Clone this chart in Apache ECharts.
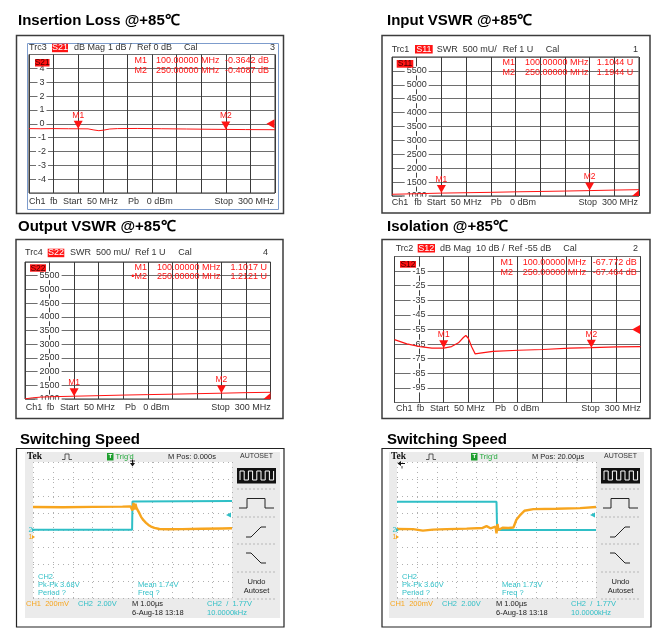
<!DOCTYPE html>
<html>
<head>
<meta charset="utf-8">
<script src="https://cdn.jsdelivr.net/npm/echarts@6/dist/echarts.min.js"></script>
<style>
html,body{margin:0;padding:0;background:#fff;}
#c{width:671px;height:644px;}
</style>
</head>
<body>
<div id="c"></div>
<script>
// ---------------- DATA ----------------
const freqStart = 50, freqStop = 300, freqStep = 25;
const markerFreq = [100, 250];

// Insertion loss S21 (dB)
const ilFreq = [50, 62, 75, 90, 100, 110, 116, 121, 126, 132, 140, 160, 185, 210, 235, 250, 270, 300];
const ilDb   = [-0.35, -0.36, -0.35, -0.36, -0.364, -0.37, -0.45, -0.5, -0.46, -0.38, -0.35, -0.34, -0.36, -0.38, -0.40, -0.409, -0.42, -0.43];
const ilMarkDb = [-0.3642, -0.4087];
const ilMarkText = ['-0.3642 dB', '-0.4087 dB'];
const ilTicks = {min: -5, max: 5, step: 1};

// Input VSWR S11 (mU)
const inFreq = [50, 75, 100, 125, 150, 175, 200, 225, 250, 275, 300];
const inMilliU = [1062, 1082, 1104, 1118, 1132, 1150, 1163, 1178, 1194, 1213, 1228];
const inMark = [1104.4, 1194.4];
const inMarkText = ['1.1044 U', '1.1944 U'];

// Output VSWR S22 (mU)
const outFreq = [50, 58, 66, 75, 100, 125, 150, 175, 200, 225, 250, 275, 300];
const outMilliU = [1005, 1045, 1068, 1082, 1102, 1122, 1143, 1160, 1176, 1194, 1212, 1232, 1245];
const outMark = [1101.7, 1212.1];
const outMarkText = ['1.1017 U', '1.2121 U'];
const swrTicks = {min: 1000, max: 6000, step: 500};

// Isolation S12 (dB)
const isoFreq = [50, 62.5, 76, 88, 100, 108, 115, 120, 122.5, 125, 128.5, 132, 137, 150, 176, 201, 228, 250, 276, 300];
const isoDb   = [-61.9, -64.8, -66.7, -67.8, -67.8, -66.7, -64.1, -60.5, -59.1, -61, -67, -71.7, -71.2, -70, -69.2, -68.7, -67.8, -67.46, -66.9, -66.7];
const isoMark = [-67.772, -67.464];
const isoMarkText = ['-67.772 dB', '-67.464 dB'];
const isoTicks = {min: -105, max: -5, step: 10};

// Scope 1 (time in us, CH1 mV, CH2 V)
const s1T   = [-5, -3.5, -2, -0.5, -0.1, 0, 0.05, 0.1, 0.15, 0.2, 0.27, 0.35, 0.43, 0.55, 0.68, 0.8, 0.93, 1.1, 1.35, 1.8, 2.5, 3.5, 4.5, 5];
const s1Ch1 = [350, 348, 352, 355, 358, 310, 400, 320, 390, 340, 318, 275, 235, 195, 165, 140, 121, 105, 92, 88, 90, 94, 98, 100];
const s1T2  = [-5, -0.02, 0, 0.05, 5];
const s1Ch2 = [0.02, 0.02, 3.35, 3.42, 3.42];
// Scope 2
const s2T   = [15, 15.8, 16.3, 16.8, 17.5, 18.5, 19.3, 19.5, 19.7, 19.95, 20.0, 20.05, 20.1, 20.3, 20.6, 20.85, 21.0, 21.2, 21.4, 21.85, 23.0, 24.2, 25];
const s2Ch1 = [92, 90, 72, 85, 90, 96, 104, 125, 100, 120, 40, 150, 80, 106, 104, 110, 200, 259, 306, 326, 330, 337, 350];
const s2T2  = [15, 20.0, 20.03, 25];
const s2Ch2 = [3.32, 3.32, 0.0, 0.0];
const trigLevel = 1.77;

// ---------------- BUILD ----------------
const FONT = "'Liberation Sans', Arial, Helvetica, sans-serif";
const RED = '#ff1414';
const CYAN = '#2fbfc6';
const ORANGE = '#f7a51e';
const grids = [], xAxes = [], yAxes = [], series = [], graphics = [];

function txt(x, y, s, o) {
  o = o || {};
  const a = o.a || 'left';
  graphics.push({type: 'text', x: x, y: y, z: o.z != null ? o.z : 100, silent: true,
    style: {text: s, fill: o.c || '#333', font: (o.w || 'normal') + ' ' + (o.fs || 9) + 'px ' + (o.ff || FONT),
      textAlign: a, textVerticalAlign: 'middle'}});
}
function rect(x, y, w, h, style, z) {
  graphics.push({type: 'rect', z: z != null ? z : 95, silent: true, shape: {x: x, y: y, width: w, height: h}, style: style});
}
function poly(points, style, z) {
  graphics.push({type: 'polyline', z: z != null ? z : 100, silent: true, shape: {points: points}, style: Object.assign({fill: null}, style)});
}
function polygon(points, fill, z) {
  graphics.push({type: 'polygon', z: z != null ? z : 100, silent: true, shape: {points: points}, style: {fill: fill}});
}

const downTri = 'path://M0,0L10,0L5,9Z';
const leftTri = 'path://M10,0L10,10L0,5Z';
const cornerTri = 'path://M10,0L10,10L0,10Z';

function addVna(p) {
  const gi = grids.length, yi = yAxes.length;
  const [l, t, w, h] = p.rect;
  grids.push({left: l, top: t, width: w, height: h, show: true, borderColor: '#333', borderWidth: 1, backgroundColor: '#fff'});
  xAxes.push({gridIndex: gi, type: 'value', min: freqStart, max: freqStop, interval: freqStep,
    axisLine: {show: false, onZero: false}, axisTick: {show: false}, axisLabel: {show: false},
    splitLine: {show: true, lineStyle: {color: '#3a3a3a', width: 1}}});
  yAxes.push({gridIndex: gi, type: 'value', position: 'left', min: p.ticks.min, max: p.ticks.max, interval: p.ticks.step,
    offset: -p.labelDx,
    axisLine: {show: !!p.dashed, onZero: false, lineStyle: {color: '#444', width: 1, type: [2, 2]}},
    axisTick: {show: false},
    axisLabel: {show: true, interval: 0, margin: 0, align: 'center', fontSize: 9, fontFamily: FONT, color: '#333',
      backgroundColor: '#fff', padding: [0, 2], showMinLabel: p.showMin, showMaxLabel: false,
      formatter: v => String(v)},
    splitLine: {show: true, lineStyle: {color: '#6e6e6e', width: 1}}});
  const mlabel = {show: true, position: 'top', distance: 1, formatter: '{b}', color: RED, fontSize: 8.5, fontFamily: FONT};
  series.push({type: 'line', xAxisIndex: gi, yAxisIndex: yi, data: p.freq.map((f, i) => [f, p.vals[i]]),
    showSymbol: false, symbol: 'none', lineStyle: {color: RED, width: p.lw || 1}, itemStyle: {color: RED},
    silent: true, z: 3,
    markPoint: {silent: true, animation: false, data: [
      {name: 'M1', coord: [markerFreq[0], p.marks[0]], symbol: downTri, symbolSize: [9, 8], symbolOffset: [0, '-50%'], itemStyle: {color: RED}, label: mlabel},
      {name: 'M2', coord: [markerFreq[1], p.marks[1]], symbol: downTri, symbolSize: [9, 8], symbolOffset: [0, '-50%'], itemStyle: {color: RED}, label: mlabel},
      {name: 'ref', coord: [freqStop, p.refVal], symbol: p.refSym, symbolSize: p.refSize, symbolOffset: p.refOff, itemStyle: {color: RED}, label: {show: false}}
    ]}});
  // header
  const hy = p.hy;
  const H = p.hdr;
  txt(H[0], hy, H[1]);
  rect(H[2], hy - 4.3, H[3], 8.5, {fill: RED});
  txt(H[2] + H[3] / 2, hy, p.sname, {c: '#fff', a: 'center'});
  for (let i = 4; i < H.length - 2; i += 2) txt(H[i], hy, H[i + 1]);
  txt(H[H.length - 2], hy, H[H.length - 1], {a: 'right'});
  // trace label box in plot
  rect(p.box[0], p.box[1], p.box[2], p.box[3], {fill: RED});
  txt(p.box[0] + p.box[2] / 2, p.box[1] + p.box[3] / 2 + 0.3, p.sname, {c: '#4a0000', a: 'center', fs: 8.5});
  // readouts
  const names = p.mnames;
  for (let k = 0; k < 2; k++) {
    const y = p.ry[k];
    txt(p.rx[0], y, names[k], {c: RED, a: 'right'});
    txt(p.rx[1], y, markerFreq[k].toFixed(5) + ' MHz', {c: RED});
    txt(p.rx[2], y, p.mtext[k], {c: RED, a: 'right'});
  }
  // footer
  const F = p.ftr, fy = p.fy;
  txt(F[0], fy, 'Ch1'); txt(F[1], fy, 'fb'); txt(F[2], fy, 'Start  50 MHz');
  txt(F[3], fy, 'Pb'); txt(F[4], fy, '0 dBm'); txt(F[5], fy, 'Stop  300 MHz', {a: 'right'});
  if (p.cover) rect(p.cover[0], p.cover[1], p.cover[2], p.cover[3], {fill: '#fff'}, 99);
}

// Titles
function title(x, y, s) { txt(x, y, s, {w: 'bold', fs: 15, c: '#000'}); }
title(18, 20.5, 'Insertion Loss @+85℃');
title(387, 20.5, 'Input VSWR @+85℃');
title(18, 227, 'Output VSWR @+85℃');
title(387, 227, 'Isolation @+85℃');
title(20, 440, 'Switching Speed');
title(387, 440, 'Switching Speed');

// Frames
rect(16.5, 35.5, 267, 178, {fill: null, stroke: '#3c3c3c', lineWidth: 1.5}, 50);
rect(27.5, 43.5, 251, 166, {fill: null, stroke: '#7d9ccc', lineWidth: 1}, 50);
rect(382, 35.5, 268, 177.5, {fill: null, stroke: '#3c3c3c', lineWidth: 1.5}, 50);
rect(16, 239.5, 267, 179, {fill: null, stroke: '#3c3c3c', lineWidth: 1.5}, 50);
rect(382, 239.5, 268, 179, {fill: null, stroke: '#3c3c3c', lineWidth: 1.5}, 50);

addVna({rect: [29, 54.5, 246, 138.5], ticks: ilTicks, labelDx: 13, dashed: false, showMin: false,
  freq: ilFreq, vals: ilDb, marks: ilMarkDb, mtext: ilMarkText, mnames: ['M1', 'M2'],
  refVal: 0, refSym: leftTri, refSize: [8, 9], refOff: [-4.5, 0], sname: 'S21',
  hy: 48, hdr: [29, 'Trc3', 52, 16, 74, 'dB Mag', 108, '1 dB /', 137, 'Ref 0 dB', 184, 'Cal', 275, '3'],
  box: [35, 59, 14.5, 7.5], rx: [147, 156, 269], ry: [61, 71],
  fy: 202, ftr: [29, 50, 63, 128, 146.7, 274]});

addVna({rect: [392, 57, 247, 139], ticks: swrTicks, labelDx: 24.7, dashed: true, showMin: true,
  freq: inFreq, vals: inMilliU, marks: inMark, mtext: inMarkText, mnames: ['M1', 'M2'],
  refVal: 1000, refSym: cornerTri, refSize: [7, 6], refOff: [-3.5, -3], sname: 'S11',
  hy: 49.3, hdr: [391.7, 'Trc1', 415, 17.7, 436.7, 'SWR', 462.7, '500 mU/', 502.7, 'Ref 1 U', 545.7, 'Cal', 638, '1'],
  box: [396.7, 60, 16.6, 7.7], rx: [515, 525, 633.3], ry: [62.7, 72.7],
  fy: 202.7, ftr: [391.7, 414.3, 426.7, 490.7, 510, 638],
  cover: [402, 196.7, 30, 6]});

addVna({rect: [25, 262, 245.5, 137], ticks: swrTicks, labelDx: 24.6, dashed: true, showMin: true,
  freq: outFreq, vals: outMilliU, marks: outMark, mtext: outMarkText, mnames: ['M1', '•M2'],
  refVal: 1000, refSym: cornerTri, refSize: [7, 6], refOff: [-3.5, -3], sname: 'S22',
  hy: 253, hdr: [25, 'Trc4', 47.7, 16.6, 70, 'SWR', 96, '500 mU/', 135, 'Ref 1 U', 178.3, 'Cal', 268, '4'],
  box: [30, 264.3, 16, 7.4], rx: [147, 157, 267], ry: [267.3, 276.7],
  fy: 407.3, ftr: [25.7, 46.7, 60, 125, 143.3, 270.7],
  cover: [35, 399.7, 30, 6]});

addVna({rect: [394.5, 256.5, 246, 146], ticks: isoTicks, labelDx: 24.6, dashed: true, showMin: false,
  freq: isoFreq, vals: isoDb, marks: isoMark, mtext: isoMarkText, mnames: ['M1', 'M2'], lw: 1.2,
  refVal: -55, refSym: leftTri, refSize: [8, 9], refOff: [-4.5, 0], sname: 'S12',
  hy: 248.3, hdr: [395.7, 'Trc2', 417.7, 17.3, 440, 'dB Mag', 476, '10 dB /', 508.3, 'Ref -55 dB', 563.3, 'Cal', 638, '2'],
  box: [400, 261, 16, 6.7], rx: [513, 522.7, 636.7], ry: [262.7, 272.7],
  fy: 408.3, ftr: [396, 416.7, 430, 495, 513.3, 640.7]});

// ---------------- SCOPES ----------------
function addScope(p) {
  const ox = p.ox;
  const gi = grids.length, yi = yAxes.length;
  const L = 33 + ox, T = 462, W = 199, Hh = 136;
  rect(p.frame[0], p.frame[1], p.frame[2], p.frame[3], {fill: null, stroke: '#222', lineWidth: 1.2}, 50);
  rect(25 + ox, 452, 255, 166, {fill: '#ebebeb'}, -10);
  grids.push({left: L, top: T, width: W, height: Hh, show: true, backgroundColor: '#fff', borderWidth: 0});
  xAxes.push({gridIndex: gi, type: 'value', min: p.tMin, max: p.tMax, interval: 1,
    axisLine: {show: false, onZero: false}, axisTick: {show: false}, axisLabel: {show: false},
    splitLine: {show: true, lineStyle: {color: '#b0b0b0', width: 1, type: [1, 4]}}});
  yAxes.push({gridIndex: gi, type: 'value', position: 'left', min: -8, max: 8, interval: 2,
    axisLine: {show: false, onZero: false}, axisTick: {show: false}, axisLabel: {show: false},
    splitLine: {show: true, lineStyle: {color: '#b0b0b0', width: 1, type: [1, 4]}}});
  yAxes.push({gridIndex: gi, type: 'value', position: 'right', min: -720, max: 880, show: false,
    splitLine: {show: false}});
  series.push({type: 'line', xAxisIndex: gi, yAxisIndex: yi, data: p.t2.map((t, i) => [t, p.ch2[i]]),
    showSymbol: false, symbol: 'none', lineStyle: {color: CYAN, width: 2}, itemStyle: {color: CYAN}, silent: true, z: 3,
    markPoint: {silent: true, animation: false, data: [
      {coord: [p.tMax, trigLevel], symbol: leftTri, symbolSize: [5, 5], symbolOffset: [-3.5, 0], itemStyle: {color: CYAN}, label: {show: false}}
    ]}});
  series.push({type: 'line', xAxisIndex: gi, yAxisIndex: yi + 1, data: p.t1.map((t, i) => [t, p.ch1[i]]),
    showSymbol: false, symbol: 'none', lineStyle: {color: ORANGE, width: 2.4}, itemStyle: {color: ORANGE}, silent: true, z: 4});

  txt(27 + ox, 457, 'Tek', {w: 'bold', fs: 9.5, c: '#111', ff: "'Liberation Serif', 'DejaVu Serif', serif"});
  poly([[62 + ox, 459.5], [65 + ox, 459.5], [65 + ox, 454], [69 + ox, 454], [69 + ox, 459.5], [72 + ox, 459.5]], {stroke: '#333', lineWidth: 0.8});
  rect(107 + ox, 453, 6.5, 7.5, {fill: '#1e9e2e'});
  txt(110.3 + ox, 456.8, 'T', {c: '#fff', fs: 6, w: 'bold', a: 'center'});
  txt(115.5 + ox, 456.8, "Trig'd", {c: '#22a83a', fs: 7.5});
  txt(168 + ox, 456.8, p.mpos, {c: '#222', fs: 7.5});
  txt(256.5 + ox, 456.5, 'AUTOSET', {c: '#333', fs: 7, a: 'center'});

  if (p.trigArrow === 'down') {
    poly([[132.5 + ox, 459.5], [132.5 + ox, 463]], {stroke: '#111', lineWidth: 1});
    poly([[130 + ox, 461], [135 + ox, 461]], {stroke: '#111', lineWidth: 0.8});
    polygon([[130 + ox, 463], [135 + ox, 463], [132.5 + ox, 466.5]], '#111');
  } else {
    poly([[36 + ox, 463.5], [41 + ox, 463.5]], {stroke: '#111', lineWidth: 1});
    polygon([[33.5 + ox, 463.5], [37 + ox, 461], [37 + ox, 466]], '#111');
    poly([[38 + ox, 466], [38 + ox, 468.5]], {stroke: '#111', lineWidth: 0.8});
  }
  txt(28.5 + ox, 530, '2', {c: CYAN, fs: 7});
  polygon([[32 + ox, 528], [35 + ox, 530], [32 + ox, 532]], CYAN);
  txt(28.5 + ox, 537, '1', {c: ORANGE, fs: 7});
  polygon([[32 + ox, 535], [35 + ox, 537], [32 + ox, 539]], ORANGE);

  txt(38 + ox, 577, 'CH2', {c: CYAN, fs: 7.5});
  txt(38 + ox, 585, p.pkpk, {c: CYAN, fs: 7.5});
  txt(38 + ox, 593, 'Period ?', {c: CYAN, fs: 7.5});
  txt(138 + ox, 585, p.mean, {c: CYAN, fs: 7.5});
  txt(138 + ox, 593, 'Freq ?', {c: CYAN, fs: 7.5});
  txt(26 + ox, 604, 'CH1  200mV', {c: ORANGE, fs: 7.5});
  txt(78 + ox, 604, 'CH2  2.00V', {c: CYAN, fs: 7.5});
  txt(132 + ox, 604, 'M 1.00µs', {c: '#222', fs: 7.5});
  txt(132 + ox, 613, '6-Aug-18 13:18', {c: '#222', fs: 7.5});
  txt(207 + ox, 604, 'CH2  /  1.77V', {c: CYAN, fs: 7.5});
  txt(207 + ox, 613, '10.0000kHz', {c: CYAN, fs: 7.5});

  const mx = 237 + ox;
  rect(mx, 468, 39, 15.5, {fill: '#111'});
  const sq = [];
  let x0 = mx + 3;
  sq.push([x0, 480]);
  for (let k = 0; k < 4; k++) {
    const a = x0 + k * 8.4;
    sq.push([a, 471], [a + 4.2, 471], [a + 4.2, 480], [a + 8.4, 480]);
  }
  sq.push([x0 + 33.6, 471]);
  poly(sq, {stroke: '#fff', lineWidth: 1});
  [489, 517, 544, 572, 599].forEach(y => poly([[mx, y], [mx + 39, y]], {stroke: '#aaa', lineWidth: 0.8, lineDash: [2, 2]}));
  poly([[mx + 2, 508], [mx + 10, 508], [mx + 10, 498.5], [mx + 28, 498.5], [mx + 28, 508], [mx + 37, 508]], {stroke: '#222', lineWidth: 1});
  poly([[mx + 9, 537], [mx + 14, 537], [mx + 24, 527], [mx + 29, 527]], {stroke: '#222', lineWidth: 1});
  poly([[mx + 9, 553], [mx + 14, 553], [mx + 24, 563], [mx + 29, 563]], {stroke: '#222', lineWidth: 1});
  txt(mx + 19.5, 582, 'Undo', {c: '#222', fs: 7.5, a: 'center'});
  txt(mx + 19.5, 590.5, 'Autoset', {c: '#222', fs: 7.5, a: 'center'});
}

addScope({ox: 0, frame: [16.5, 448.5, 267.5, 178.5], tMin: -5, tMax: 5, t1: s1T, ch1: s1Ch1, t2: s1T2, ch2: s1Ch2,
  mpos: 'M Pos: 0.000s', pkpk: 'Pk-Pk 3.68V', mean: 'Mean 1.74V', trigArrow: 'down'});
addScope({ox: 364, frame: [382, 448.5, 269, 178.5], tMin: 15, tMax: 25, t1: s2T, ch1: s2Ch1, t2: s2T2, ch2: s2Ch2,
  mpos: 'M Pos: 20.00µs', pkpk: 'Pk-Pk 3.60V', mean: 'Mean 1.73V', trigArrow: 'left'});

const chart = echarts.init(document.getElementById('c'), null, {renderer: 'canvas', width: 671, height: 644});
chart.setOption({
  backgroundColor: '#fff',
  animation: false,
  grid: grids,
  xAxis: xAxes,
  yAxis: yAxes,
  series: series,
  graphic: {elements: graphics}
});
</script>
</body>
</html>
